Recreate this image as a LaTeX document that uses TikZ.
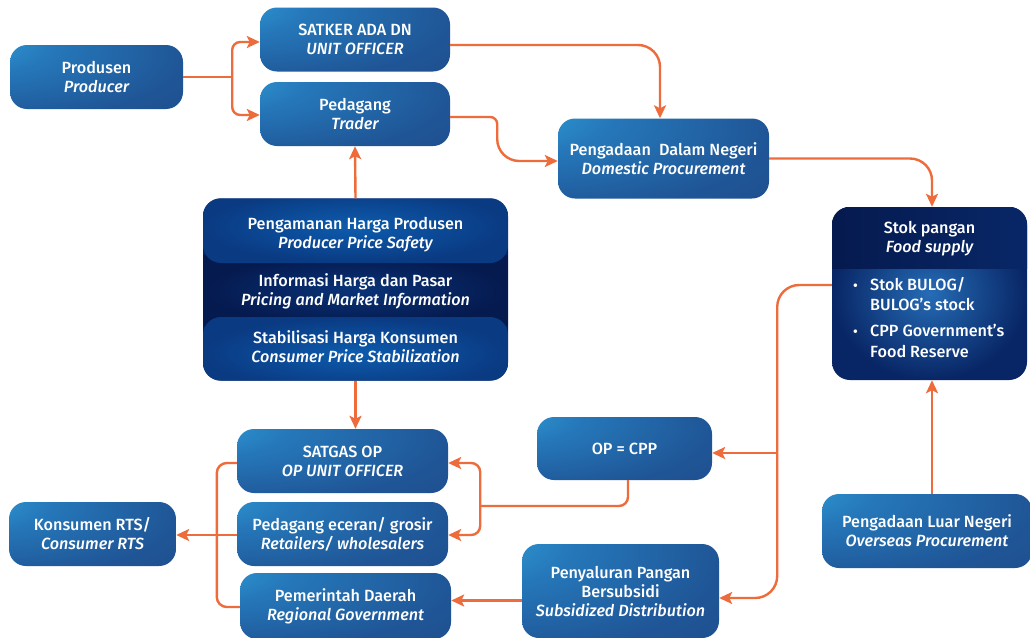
\documentclass[tikz,border=0pt]{standalone}
\usepackage{fontspec}
\setmainfont{Fira Sans}[BoldFont={Fira Sans Medium},BoldItalicFont={Fira Sans Medium Italic}]
\usetikzlibrary{arrows.meta,calc}

\definecolor{flow}{HTML}{EE6B3B}
\definecolor{bxA}{HTML}{33A6DF}
\definecolor{bxB}{HTML}{2577B9}
\definecolor{bxC}{HTML}{1F5596}
\definecolor{bxD}{HTML}{1C4586}
\definecolor{navy}{HTML}{082260}
\definecolor{navyDeep}{HTML}{051A4F}
\definecolor{bandIn}{HTML}{0D5CAE}
\definecolor{bandOut}{HTML}{0A3A82}

% light spot near the upper left corner of each box
\pgfdeclareradialshading{boxshade}{\pgfpoint{-42bp}{30bp}}{%
  color(0bp)=(bxA); color(22bp)=(bxB); color(50bp)=(bxC); color(85bp)=(bxD); color(120bp)=(bxD)}

\newcommand\txtfont{\bfseries\fontsize{16.2}{19}\selectfont}
\newcommand\bul{\makebox[17pt][l]{\fontsize{14}{14}\selectfont\textbullet}}
\tikzset{
  box/.style={shading=boxshade, rounded corners=17pt, inner sep=0pt,
    text=white, align=center, font=\txtfont},
  lbl/.style={text=white, align=center, inner sep=0pt, font=\txtfont},
  conn/.style={draw=flow, line width=2.4pt},
  arr/.style={conn, -{Stealth[length=13pt,width=12pt,inset=3pt]}},
}

\begin{document}
\begin{tikzpicture}[x=1pt,y=-1pt]
\useasboundingbox[fill=white] (0,0) rectangle (1030,637);

% ---- upper chain -------------------------------------------------------
\node[box, minimum width=173pt, minimum height=64pt] (prod) at (96.5,77)
  {Produsen\\\itshape Producer};
\node[box, minimum width=190pt, minimum height=64pt] (satker) at (355,39.5)
  {SATKER ADA DN\\\itshape UNIT OFFICER};
\node[box, minimum width=190pt, minimum height=64pt] (ped) at (355,114)
  {Pedagang\\\itshape Trader};
\node[box, minimum width=211pt, minimum height=80pt] (pdn) at (663.5,158.5)
  {Pengadaan~ Dalam Negeri\\\itshape Domestic Procurement};

% ---- price policy block ------------------------------------------------
\node[fill=navy, rounded corners=18pt, minimum width=305pt, minimum height=182pt,
      inner sep=0pt] (ctrl) at (355.5,289.5) {};
\begin{scope}
  \clip[rounded corners=18pt] (ctrl.north west) rectangle (ctrl.south east);
  \shade[inner color=navy!70!bandIn, outer color=navyDeep]
    (203,255) rectangle (508,325);
  \shade[inner color=bandIn, outer color=bandOut, rounded corners=18pt]
    (203,190) rectangle (508,263);
  \shade[inner color=bandIn, outer color=bandOut, rounded corners=18pt]
    (203,317) rectangle (508,390);
\end{scope}
\node[lbl] (safety) at (355.5,234.5) {Pengamanan Harga Produsen\\\itshape Producer Price Safety};
\node[lbl] (info) at (355.5,291) {Informasi Harga dan Pasar\\\itshape Pricing and Market Information};
\node[lbl] (stab) at (355.5,346.5) {Stabilisasi Harga Konsumen\\\itshape Consumer Price Stabilization};

% ---- food stock --------------------------------------------------------
\node[shading=radial, inner color=bandIn!90!white, outer color=navy!85!bandOut,
      rounded corners=18pt, minimum width=195pt, minimum height=173pt,
      inner sep=0pt] (stok) at (929.5,293.5) {};
\begin{scope}
  \clip[rounded corners=18pt] (stok.north west) rectangle (stok.south east);
  \shade[left color=navyDeep, right color=navy!80!bandOut] (832,207) rectangle (1027,268);
\end{scope}
\node[lbl] (stokhead) at (929.5,238.5) {Stok pangan\\\itshape Food supply};
\node[lbl, align=left, anchor=north west,
      font=\bfseries\fontsize{16.2}{20.5}\selectfont] (stokitems) at (853,277)
  {\bul Stok BULOG/\\
   \hspace*{17pt}BULOG’s stock\\[5.5pt]
   \bul CPP Government’s\\
   \hspace*{17pt}Food Reserve};

\node[box, minimum width=210pt, minimum height=74pt] (luar) at (927,531)
  {Pengadaan Luar Negeri\\\itshape Overseas Procurement};

% ---- distribution side -------------------------------------------------
\node[box, minimum width=175pt, minimum height=63pt] (opcpp) at (624.5,448.5) {OP = CPP};
\node[box, minimum width=197pt, minimum height=94pt] (peny) at (620.5,591)
  {Penyaluran Pangan\\Bersubsidi\\\itshape Subsidized Distribution};

\node[box, minimum width=211pt, minimum height=64pt] (satgas) at (342.5,461)
  {SATGAS OP\\\itshape OP UNIT OFFICER};
\node[box, minimum width=211pt, minimum height=64pt] (ecer) at (342.5,534)
  {Pedagang eceran/ grosir\\\itshape Retailers/ wholesalers};
\node[box, minimum width=211pt, minimum height=66pt] (pem) at (345.5,606)
  {Pemerintah Daerah\\\itshape Regional Government};
\node[box, minimum width=167pt, minimum height=64pt] (kons) at (92.5,534)
  {Konsumen RTS/\\\itshape Consumer RTS};

% ---- connectors --------------------------------------------------------
\path (prod.east) ++(49,0) coordinate (j1);
\draw[conn] (prod.east) -- (j1);
\draw[arr, rounded corners=8pt] (j1) |- ([yshift=-2.5pt]satker.west);
\draw[arr, rounded corners=8pt] (j1) |- ([yshift=-1pt]ped.west);

\draw[arr, rounded corners=22pt] ([yshift=-5.5pt]satker.east) -| ([xshift=-3.5pt]pdn.north);
\draw[arr] ([yshift=-3pt]ped.east) [rounded corners=7pt] -- ++(47,0)
  [rounded corners=22pt] |- ([yshift=-2.5pt]pdn.west);
\draw[arr, rounded corners=22pt] (pdn.east) -| ([xshift=2.5pt]stok.north);

\draw[arr] (ctrl.north) -- (ped.south);
\draw[arr] (ctrl.south) -- (ctrl.south |- satgas.north);

\draw[arr, rounded corners=22pt] ([yshift=8.5pt]stok.west)
  -| ([xshift=58pt,yshift=-7pt]peny.east) -- ([yshift=-7pt]peny.east);
\draw[arr] ([xshift=65pt,yshift=-4.5pt]opcpp.east) -- ([yshift=-4.5pt]opcpp.east);
\draw[arr] ([xshift=2.5pt]stok.south |- luar.north) -- ([xshift=2.5pt]stok.south);

\coordinate (j4) at ($(satgas.east)+(32,45)$);
\draw[conn, rounded corners=9pt] ([xshift=3.5pt]opcpp.south) |- (j4);
\draw[arr, rounded corners=9pt] (j4) |- ([yshift=-2pt]satgas.east);
\draw[arr, rounded corners=9pt] (j4) |- ([yshift=-1pt]ecer.east);

\draw[conn, rounded corners=10pt] ([yshift=-2pt]satgas.west) -- ++(-20,0)
  |- ([yshift=-1pt]pem.west);
\draw[arr] ([yshift=-1pt]ecer.west) -- ([yshift=-1pt]ecer.west -| kons.east);
\coordinate (pemIn) at ([yshift=5.5pt]pem.east);
\draw[arr] (peny.west |- pemIn) -- (pemIn);
\end{tikzpicture}
\end{document}
